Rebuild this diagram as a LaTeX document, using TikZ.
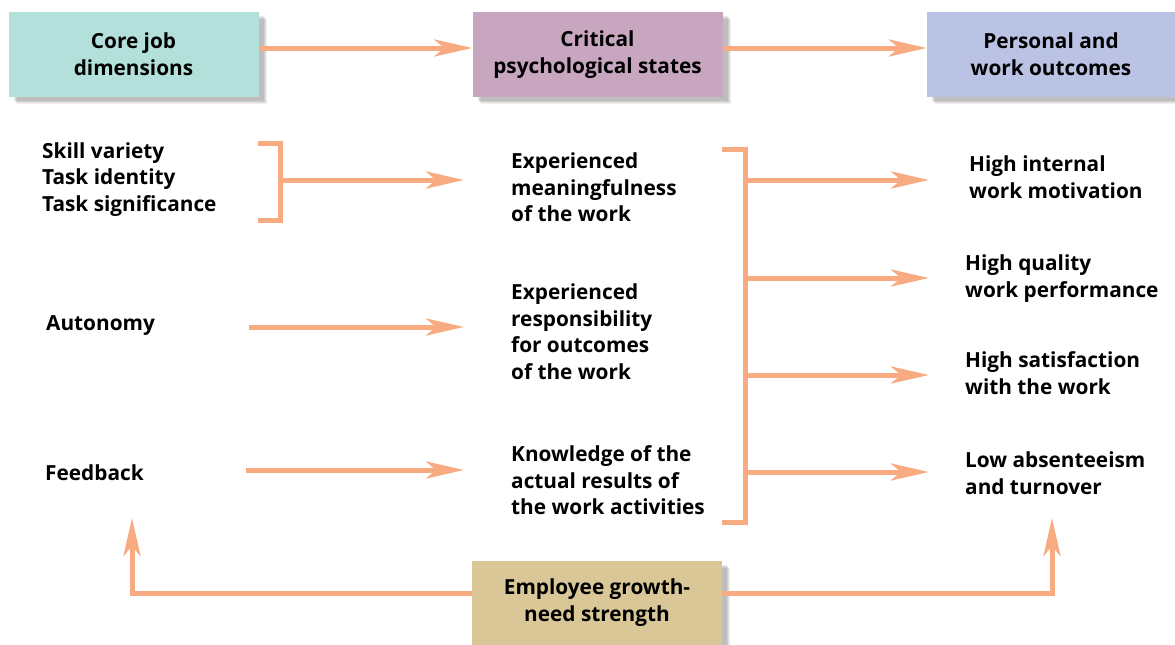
\documentclass[tikz,border=0pt]{standalone}
\usepackage{fontspec}
\setmainfont{Open Sans}[BoldFont={Open Sans Bold}]
\usetikzlibrary{arrows.meta,shadows}
\definecolor{arr}{HTML}{F8AA80}
\definecolor{cteal}{HTML}{B3E0DA}
\definecolor{cmauve}{HTML}{C8A6C0}
\definecolor{cblue}{HTML}{BBC3E4}
\definecolor{ctan}{HTML}{D9C797}
\tikzset{
  hbox/.style={minimum width=250pt,minimum height=85pt,inner sep=0pt,align=center,
    font=\fontsize{20.8}{27}\selectfont\bfseries,
    drop shadow={shadow xshift=8pt,shadow yshift=-7pt,opacity=0.06,fill=black},
    drop shadow={shadow xshift=7pt,shadow yshift=-6pt,opacity=0.07,fill=black},
    drop shadow={shadow xshift=6pt,shadow yshift=-5pt,opacity=0.08,fill=black},
    drop shadow={shadow xshift=5pt,shadow yshift=-4pt,opacity=0.08,fill=black}},
  lbl/.style={inner sep=0pt,anchor=west,align=left,font=\fontsize{20.8}{26.5}\selectfont\bfseries},
  conn/.style={draw=arr,line width=5pt},
  arrw/.style={conn,-{Stealth[length=38pt,width=17pt,inset=10pt]}}
}
\begin{document}
\begin{tikzpicture}[x=1pt,y=-1pt]
\useasboundingbox (0,0) rectangle (1175,645);
% header boxes
\node[hbox,fill=cteal] (core) at (133.5,54.5) {Core job\\dimensions};
\node[hbox,fill=cmauve] (crit) at (597.5,54.5) {Critical\\psychological states};
\node[hbox,fill=cblue,minimum width=248pt] (pers) at (1051,54.5) {Personal and\\work outcomes};
\node[hbox,fill=ctan] (emp) at (597,603) {Employee growth-\\need strength};
\draw[arrw] (core.east |- 0,48) -- (crit.west |- 0,48);
\draw[arrw] (crit.east |- 0,48) -- (pers.west |- 0,48);
% left column
\node[lbl] (skill) at (42,179.5) {Skill variety\\Task identity\\Task significance};
\node[lbl] (auto) at (46,326) {Autonomy};
\node[lbl] (feed) at (45,473) {Feedback};
% middle column
\node[lbl] (mean) at (511,187.5) {Experienced\\meaningfulness\\of the work};
\node[lbl] (resp) at (511,331.5) {Experienced\\responsibility\\for outcomes\\of the work};
\node[lbl] (know) at (511,480.5) {Knowledge of the\\actual results of\\the work activities};
% right column
\node[lbl] (motiv) at (969,177) {High internal\\work motivation};
\node[lbl] (qual) at (965,278.5) {High quality\\work performance};
\node[lbl] (sat) at (965,373) {High satisfaction\\with the work};
\node[lbl] (low) at (965,473) {Low absenteeism\\and turnover};
% left bracket
\coordinate (lbt) at (258,143);
\coordinate (lbb) at (258,220.5);
\coordinate (lbm) at (280,180);
\draw[conn] (lbt) -| (280,220.5) -- (lbb);
\draw[arrw] (lbm) -- (464,180);
\draw[arrw] (249,327) -- (464,327);
\draw[arrw] (246,470) -- (464,470);
% right bracket
\coordinate (rbt) at (722,149);
\coordinate (rbb) at (722,522);
\draw[conn] (rbt) -| (745,522) -- (rbb);
\draw[arrw] (745,180) -- (929,180);
\draw[arrw] (745,278) -- (929,278);
\draw[arrw] (745,375) -- (929,375);
\draw[arrw] (745,472) -- (929,472);
% bottom feedback loops
\coordinate (lup) at (132,518);
\coordinate (rup) at (1052,518);
\draw[arrw] (emp.west |- 0,593) -| (lup);
\draw[arrw] (emp.east |- 0,593) -| (rup);
\end{tikzpicture}
\end{document}
